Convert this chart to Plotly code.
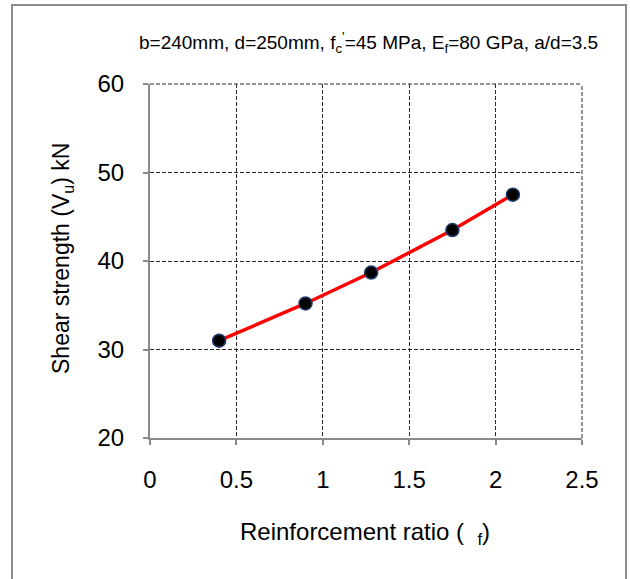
import plotly.graph_objects as go

# Data
reinforcement_ratio = [0.4, 0.9, 1.28, 1.75, 2.1]
shear_strength = [31.0, 35.2, 38.7, 43.5, 47.5]
x_ticks = [0, 0.5, 1, 1.5, 2, 2.5]
x_tick_labels = ["0", "0.5", "1", "1.5", "2", "2.5"]
y_ticks = [20, 30, 40, 50, 60]
y_tick_labels = ["20", "30", "40", "50", "60"]

FONT = "Liberation Sans, Arial, sans-serif"

fig = go.Figure()
fig.add_trace(go.Scatter(
    x=reinforcement_ratio, y=shear_strength,
    mode="lines+markers",
    line=dict(color="#ff0000", width=3.5),
    marker=dict(size=13, color="#000000", line=dict(color="#1f3c6e", width=1.5)),
    showlegend=False,
))

L, R, T, B = 150, 582, 84, 438
W, H = 630, 579


def px(x):
    return (x - L) / (R - L)


def py(y):
    return (B - y) / (B - T)


GRID = "#2a2a2a"
AXIS = "#8a8a8a"

fig.update_layout(
    width=W, height=H,
    margin=dict(l=L, r=W - R, t=T, b=H - B, pad=0, autoexpand=False),
    paper_bgcolor="white", plot_bgcolor="white",
    font=dict(family=FONT, color="#000000"),
    annotations=[
        dict(text="b=240mm, d=250mm, f<sub>c</sub><sup>'</sup>=45 MPa, E<sub>f</sub>=80 GPa, a/d=3.5",
             xref="paper", yref="paper", x=px(368), y=py(42),
             xanchor="center", yanchor="middle", showarrow=False,
             font=dict(size=19, family=FONT, color="#000000")),
        dict(text="Reinforcement ratio (  <sub>f</sub>)",
             xref="paper", yref="paper", x=px(365), y=py(533),
             xanchor="center", yanchor="middle", showarrow=False,
             font=dict(size=24, family=FONT, color="#000000")),
        dict(text="Shear strength (V<sub>u</sub>) kN",
             xref="paper", yref="paper", x=px(62), y=py(259),
             xanchor="center", yanchor="middle", showarrow=False, textangle=-90,
             font=dict(size=23, family=FONT, color="#000000")),
    ],
    shapes=[
        dict(type="rect", xref="paper", yref="paper",
             x0=px(12), x1=px(626), y0=py(600), y1=py(5),
             line=dict(color="#8c8c8c", width=2), layer="below"),
        dict(type="line", xref="paper", yref="paper", x0=0, x1=1, y0=1, y1=1,
             line=dict(color=GRID, width=1, dash="4px,2px")),
        dict(type="line", xref="paper", yref="paper", x0=1, x1=1, y0=0, y1=1,
             line=dict(color=GRID, width=1, dash="4px,2px")),
    ],
)

fig.update_xaxes(
    range=[0, 2.5], tickmode="array", tickvals=x_ticks, ticktext=x_tick_labels,
    showline=True, linecolor=AXIS, linewidth=2,
    ticks="outside", ticklen=5, tickcolor=AXIS, tickwidth=2,
    showgrid=True, gridcolor=GRID, gridwidth=1, griddash="4px,2px",
    zeroline=False, tickfont=dict(size=24, family=FONT), ticklabelstandoff=14,
    automargin=False,
)
fig.update_yaxes(
    range=[20, 60], tickmode="array", tickvals=y_ticks, ticktext=y_tick_labels,
    showline=True, linecolor=AXIS, linewidth=2,
    ticks="outside", ticklen=5, tickcolor=AXIS, tickwidth=2,
    showgrid=True, gridcolor=GRID, gridwidth=1, griddash="4px,2px",
    zeroline=False, tickfont=dict(size=24, family=FONT), ticklabelstandoff=14,
    automargin=False,
)

fig.write_html("out.html", config={"displayModeBar": False},
               post_script="document.body.style.margin='0px';")
